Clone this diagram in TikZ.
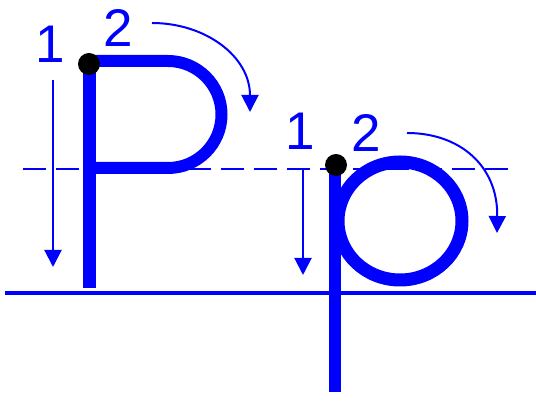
\documentclass[tikz,border=0pt]{standalone}
\usepackage{fontspec}
\setmainfont{Liberation Sans}
\usepackage{xcolor}
\usetikzlibrary{arrows.meta}

\begin{document}
\begin{tikzpicture}[x=1pt, y=1pt,
    guide/.style={line width=2pt, color=blue, -{Triangle[width=17pt,length=17pt]}},
    num/.style={font=\fontsize{53}{53}\selectfont, text=blue, inner sep=0pt, anchor=base}]
  \useasboundingbox (0,0) rectangle (536,401);
  \draw[line width=3.5pt, color=blue] (5,108) -- (536,108); % base line
  \draw[line width=2pt, color=blue, dash pattern=on 23pt off 10pt] (23,232) -- (515,232); % mid line
  % capital P
  \draw[line width=13pt, color=blue] (89,113) -- (89,340); % stem
  \draw[line width=12pt, color=blue] (89,340) -- (168,340) arc[start angle=90, end angle=-90, radius=53.5] -- (89,233); % bowl
  \fill[color=black] (89,337) circle (11); % start
  \node[num] (oneP) at (50,338) {1};
  \node[num] (twoP) at (118,354) {2};
  \draw[guide] (53,321) -- (53,134); % stroke 1
  \draw[guide] (152,378) .. controls (205,378) and (250,345) .. (250,289); % stroke 2
  % small p
  \draw[line width=12pt, color=blue] (335,236) -- (335,9); % stem
  \draw[line width=13pt, color=blue] (400,180) ellipse[x radius=62, y radius=59]; % bowl
  \fill[color=black] (336,236) circle (11); % start
  \node[num] (onep) at (300,251) {1};
  \node[num] (twop) at (366,249) {2};
  \draw[guide] (303,231) -- (303,126); % stroke 1
  \draw[guide] (407,268) .. controls (460,268) and (498,235) .. (497,168); % stroke 2
\end{tikzpicture}
\end{document}
